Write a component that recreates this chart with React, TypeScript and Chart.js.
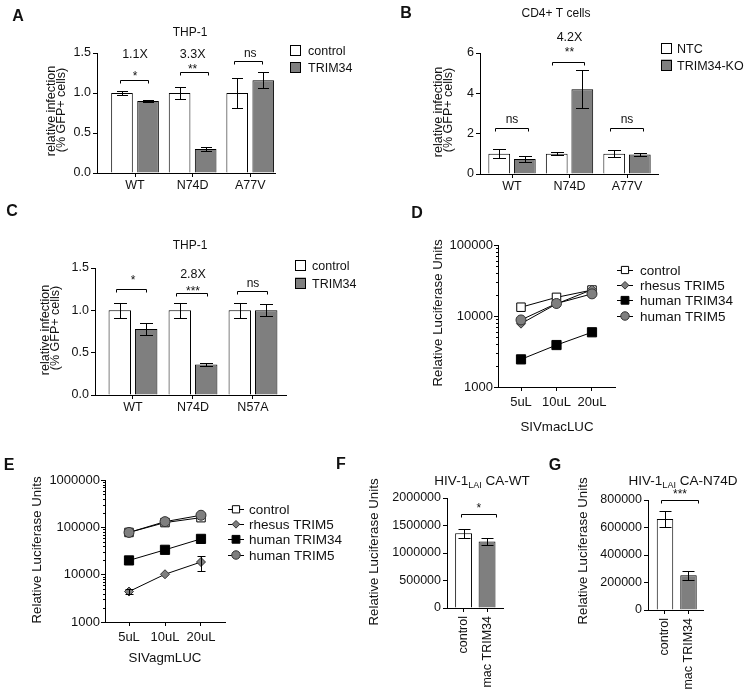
import React, { useEffect, useRef } from 'react';
import { Chart, registerables } from 'chart.js';

Chart.register(...registerables);

const FONT = '"Liberation Sans", Arial, Helvetica, sans-serif';
const GRAY = '#7f7f7f';
const W = 750;
const H = 700;
const YW = 70;

// ---------- Panel A: THP-1 ----------
const aCategories = ['WT', 'N74D', 'A77V'];
const aControl = [1.0, 1.0, 1.0];
const aControlErr = [0.02, 0.08, 0.19];
const aTrim34 = [0.9, 0.3, 1.16];
const aTrim34Err = [0.01, 0.02, 0.1];
const aYTicks = [0, 0.5, 1.0, 1.5];
const aFold = ['1.1X', '3.3X', ''];
const aSig = ['*', '**', 'ns'];

// ---------- Panel B: CD4+ T cells ----------
const bCategories = ['WT', 'N74D', 'A77V'];
const bNTC = [1.0, 1.0, 1.0];
const bNTCErr = [0.22, 0.07, 0.18];
const bKO = [0.75, 4.2, 0.97];
const bKOErr = [0.14, 0.95, 0.07];
const bYTicks = [0, 2, 4, 6];
const bFold = ['', '4.2X', ''];
const bSig = ['ns', '**', 'ns'];

// ---------- Panel C: THP-1 ----------
const cCategories = ['WT', 'N74D', 'N57A'];
const cControl = [1.0, 1.0, 1.0];
const cControlErr = [0.09, 0.09, 0.09];
const cTrim34 = [0.78, 0.36, 1.0];
const cTrim34Err = [0.07, 0.02, 0.07];
const cYTicks = [0, 0.5, 1.0, 1.5];
const cFold = ['', '2.8X', ''];
const cSig = ['*', '***', 'ns'];

// ---------- Panel D: SIVmacLUC ----------
const dDoses = ['5uL', '10uL', '20uL'];
const dControl = [13300, 18300, 23200];
const dRhesusTrim5 = [7800, 14800, 23500];
const dHumanTrim34 = [2450, 3900, 5900];
const dHumanTrim5 = [8800, 15000, 20500];
const dYTicks = [1000, 10000, 100000];

// ---------- Panel E: SIVagmLUC ----------
const eDoses = ['5uL', '10uL', '20uL'];
const eControl = [78000, 126000, 160000];
const eRhesusTrim5 = [4400, 10200, 18500];
const eRhesusTrim5Err = [500, 0, 6800];
const eHumanTrim34 = [20000, 33500, 57000];
const eHumanTrim5 = [78000, 132000, 180000];
const eYTicks = [1000, 10000, 100000, 1000000];

// ---------- Panel F: HIV-1 LAI CA-WT ----------
const fCategories = ['control', 'mac TRIM34'];
const fValues = [1360000, 1210000];
const fErr = [80000, 60000];
const fYTicks = [0, 500000, 1000000, 1500000, 2000000];
const fSig = '*';

// ---------- Panel G: HIV-1 LAI CA-N74D ----------
const gCategories = ['control', 'mac TRIM34'];
const gValues = [662000, 252000];
const gErr = [58000, 34000];
const gYTicks = [0, 200000, 400000, 600000, 800000];
const gSig = '***';

// ================= helpers =================
type Rect = { left: number; top: number; right: number; bottom: number };
type Txt = { text: string; x: number; y: number; size: number; bold?: boolean; rotate?: boolean; align?: CanvasTextAlign };
type Mark = { text: string; x: number; y: number; size: number };
type Br = { x0: number; x1: number; y: number };
type Decor = {
  texts?: Txt[];
  brackets?: Br[];
  marks?: Mark[];
  legend?: { kind: 'box' | 'line'; x: number; textX: number; ys: number[]; size: number };
  cap?: number;
  minorLog?: boolean;
  title?: { cx: number; cy: number; parts: { t: string; size: number; sub?: boolean }[] };
};

function layoutPadding(r: Rect, xh: number) {
  return { left: r.left - YW, top: r.top, right: W - r.right, bottom: H - r.bottom - xh };
}

function inkText(ctx: CanvasRenderingContext2D, t: Txt) {
  ctx.save();
  ctx.fillStyle = '#111';
  ctx.font = `${t.bold ? 'bold ' : ''}${t.size}px ${FONT}`;
  ctx.textAlign = t.align || 'center';
  ctx.textBaseline = 'alphabetic';
  ctx.translate(t.x, t.y);
  if (t.rotate) ctx.rotate(-Math.PI / 2);
  const m = ctx.measureText(t.text);
  const off = (m.actualBoundingBoxAscent - m.actualBoundingBoxDescent) / 2;
  ctx.fillText(t.text, 0, off);
  ctx.restore();
}

function drawMarker(ctx: CanvasRenderingContext2D, style: string, x: number, y: number, r: number, fill: string, stroke: string) {
  ctx.beginPath();
  if (style === 'rect') {
    const s = r * Math.SQRT1_2;
    ctx.rect(x - s, y - s, 2 * s, 2 * s);
  } else if (style === 'rectRot') {
    ctx.moveTo(x - r, y);
    ctx.lineTo(x, y - r);
    ctx.lineTo(x + r, y);
    ctx.lineTo(x, y + r);
    ctx.closePath();
  } else {
    ctx.arc(x, y, r, 0, Math.PI * 2);
  }
  ctx.fillStyle = fill;
  ctx.fill();
  ctx.lineWidth = 1;
  ctx.strokeStyle = stroke;
  ctx.stroke();
}

function makeDecor(d: Decor) {
  return {
    id: 'decor',
    afterDatasetsDraw(chart: any) {
      const ctx: CanvasRenderingContext2D = chart.ctx;
      const ys = chart.scales.y;
      ctx.save();
      ctx.strokeStyle = '#000';
      ctx.lineWidth = 1;
      chart.data.datasets.forEach((ds: any, di: number) => {
        const errs: number[] | undefined = ds.errors;
        if (!errs) return;
        const meta = chart.getDatasetMeta(di);
        meta.data.forEach((el: any, i: number) => {
          const e = errs[i];
          if (!e) return;
          const p = ds.data[i];
          const v = typeof p === 'number' ? p : p.y;
          const x = Math.round(el.x) + 0.5;
          const y1 = Math.round(ys.getPixelForValue(v + e)) + 0.5;
          const y0 = Math.round(ys.getPixelForValue(v - e)) + 0.5;
          const c = (d.cap || 12) / 2;
          ctx.beginPath();
          ctx.moveTo(x, y1);
          ctx.lineTo(x, y0);
          ctx.moveTo(x - c, y1);
          ctx.lineTo(x + c, y1);
          ctx.moveTo(x - c, y0);
          ctx.lineTo(x + c, y0);
          ctx.stroke();
        });
      });
      ctx.restore();
    },
    afterDraw(chart: any) {
      const ctx: CanvasRenderingContext2D = chart.ctx;
      const xs = chart.scales.x;
      const ys = chart.scales.y;
      ctx.save();
      ctx.strokeStyle = '#000';
      ctx.lineWidth = 1;
      if (d.minorLog) {
        const lo = Math.round(Math.log10(ys.min));
        const hi = Math.round(Math.log10(ys.max));
        const x = Math.round(chart.chartArea.left) + 0.5;
        ctx.beginPath();
        for (let k = lo; k < hi; k++) {
          for (let m = 2; m <= 9; m++) {
            const y = Math.round(ys.getPixelForValue(m * Math.pow(10, k))) + 0.5;
            ctx.moveTo(x - 2.5, y);
            ctx.lineTo(x, y);
          }
        }
        ctx.stroke();
      }
      (d.brackets || []).forEach((b) => {
        const x0 = Math.round(xs.getPixelForValue(b.x0)) + 0.5;
        const x1 = Math.round(xs.getPixelForValue(b.x1)) + 0.5;
        const y = Math.round(ys.getPixelForValue(b.y)) + 0.5;
        ctx.beginPath();
        ctx.moveTo(x0, y + 3);
        ctx.lineTo(x0, y);
        ctx.lineTo(x1, y);
        ctx.lineTo(x1, y + 3);
        ctx.stroke();
      });
      ctx.restore();
      (d.marks || []).forEach((m) => {
        if (!m.text) return;
        inkText(ctx, { text: m.text, x: xs.getPixelForValue(m.x), y: ys.getPixelForValue(m.y), size: m.size });
      });
      (d.texts || []).forEach((t) => inkText(ctx, t));
      if (d.title) {
        const { cx, cy, parts } = d.title;
        ctx.save();
        ctx.fillStyle = '#111';
        ctx.textBaseline = 'alphabetic';
        ctx.textAlign = 'left';
        let total = 0;
        const widths = parts.map((p) => {
          ctx.font = `${p.size}px ${FONT}`;
          const w = ctx.measureText(p.t).width;
          total += w;
          return w;
        });
        ctx.font = `${parts[0].size}px ${FONT}`;
        const capA = ctx.measureText('H').actualBoundingBoxAscent;
        const base = cy + capA / 2;
        let x = cx - total / 2;
        parts.forEach((p, i) => {
          ctx.font = `${p.size}px ${FONT}`;
          ctx.fillText(p.t, x, p.sub ? base + 3 : base);
          x += widths[i];
        });
        ctx.restore();
      }
      if (d.legend) {
        const L = d.legend;
        chart.data.datasets.forEach((ds: any, i: number) => {
          const y = L.ys[i];
          ctx.save();
          if (L.kind === 'box') {
            ctx.fillStyle = ds.backgroundColor;
            ctx.fillRect(L.x, y - 5.5, 11, 11);
            ctx.strokeStyle = '#000';
            ctx.lineWidth = 1;
            ctx.strokeRect(L.x + 0.5, Math.round(y - 5.5) + 0.5, 10, 10);
          } else {
            ctx.strokeStyle = '#000';
            ctx.lineWidth = 1;
            ctx.beginPath();
            ctx.moveTo(L.x - 8, Math.round(y) + 0.5);
            ctx.lineTo(L.x + 8, Math.round(y) + 0.5);
            ctx.stroke();
            drawMarker(ctx, ds.pointStyle, L.x, y, ds.pointRadius * 0.85, ds.pointBackgroundColor, ds.pointBorderColor);
          }
          ctx.restore();
          inkText(ctx, { text: ds.label, x: L.textX, y, size: L.size, align: 'left' });
        });
      }
    },
  };
}

const gridOpts = () => ({
  display: true,
  drawOnChartArea: false,
  drawTicks: true,
  tickLength: 4,
  tickColor: '#000',
  tickWidth: 1,
  offset: false,
  color: '#000',
});
const borderOpts = () => ({ display: true, color: '#000', width: 1 });

function xAxis(cats: string[], min: number, max: number, size: number, pad: number, xh: number, rotate = false) {
  return {
    type: 'linear',
    min,
    max,
    offset: false,
    afterBuildTicks: (s: any) => {
      s.ticks = cats.map((_, i) => ({ value: i }));
    },
    afterFit: (s: any) => {
      s.height = xh;
    },
    grid: gridOpts(),
    border: borderOpts(),
    ticks: {
      color: '#111',
      font: { family: FONT, size },
      padding: pad,
      autoSkip: false,
      maxRotation: rotate ? 90 : 0,
      minRotation: rotate ? 90 : 0,
      callback: (_v: any, i: number) => cats[i],
    },
  };
}

function yLinear(ticks: number[], fmt: (v: number) => string, size: number) {
  return {
    type: 'linear',
    min: ticks[0],
    max: ticks[ticks.length - 1],
    afterBuildTicks: (s: any) => {
      s.ticks = ticks.map((v) => ({ value: v }));
    },
    afterFit: (s: any) => {
      s.width = YW;
    },
    grid: gridOpts(),
    border: borderOpts(),
    ticks: { color: '#111', font: { family: FONT, size }, padding: 2, callback: (v: number) => fmt(v) },
  };
}

function yLog(ticks: number[], size: number) {
  return {
    type: 'logarithmic',
    min: ticks[0],
    max: ticks[ticks.length - 1],
    afterBuildTicks: (s: any) => {
      s.ticks = ticks.map((v) => ({ value: v, major: true }));
    },
    afterFit: (s: any) => {
      s.width = YW;
    },
    grid: gridOpts(),
    border: borderOpts(),
    ticks: { color: '#111', font: { family: FONT, size }, padding: 1, callback: (v: number) => String(v) },
  };
}

const pts = (vals: number[]) => vals.map((v, i) => ({ x: i, y: v }));

function baseOptions(rect: Rect, xh: number, x: any, y: any) {
  return {
    responsive: false,
    maintainAspectRatio: false,
    animation: false,
    events: [],
    layout: { padding: layoutPadding(rect, xh) },
    plugins: { legend: { display: false }, tooltip: { enabled: false }, title: { display: false } },
    scales: { x, y },
  };
}

// ================= panel configs =================
function panelA() {
  const rect = { left: 97, top: 53, right: 275, bottom: 173 };
  const sigY = [1.24, 1.33, 1.5];
  const foldY = 1.5;
  return {
    type: 'bar',
    data: {
      datasets: [
        { label: 'control', data: pts(aControl), errors: aControlErr, backgroundColor: '#fff', borderColor: '#000', borderWidth: 1, categoryPercentage: 0.905, barPercentage: 0.83 },
        { label: 'TRIM34', data: pts(aTrim34), errors: aTrim34Err, backgroundColor: GRAY, borderColor: '#000', borderWidth: 1, categoryPercentage: 0.905, barPercentage: 0.83 },
      ],
    },
    options: baseOptions(rect, 40, xAxis(aCategories, -0.66, 2.43, 12.5, 1, 40), yLinear(aYTicks, (v) => v.toFixed(1), 12.5)),
    plugins: [
      makeDecor({
        cap: 11,
        brackets: [
          { x0: -0.26, x1: 0.22, y: 1.16 },
          { x0: 0.78, x1: 1.27, y: 1.266 },
          { x0: 1.71, x1: 2.2, y: 1.4 },
        ],
        marks: [
          ...aSig.map((t, i) => ({ text: t, x: i, y: sigY[i], size: 12 })),
          ...aFold.map((t, i) => ({ text: t, x: i, y: foldY, size: 12.5 })),
        ],
        legend: { kind: 'box', x: 290, textX: 308, ys: [50, 67.5], size: 12.5 },
        texts: [
          { text: 'A', x: 18, y: 15, size: 16, bold: true },
          { text: 'THP-1', x: 190, y: 31, size: 12 },
          { text: 'relative infection', x: 50, y: 111, size: 12.5, rotate: true },
          { text: '(% GFP+ cells)', x: 62, y: 110, size: 12.5, rotate: true },
        ],
      }),
    ],
  };
}

function panelB() {
  const rect = { left: 480, top: 53, right: 658, bottom: 174 };
  const sigY = [2.71, 6.15, 2.71];
  const foldY = 6.81;
  return {
    type: 'bar',
    data: {
      datasets: [
        { label: 'NTC', data: pts(bNTC), errors: bNTCErr, backgroundColor: '#fff', borderColor: '#000', borderWidth: 1, categoryPercentage: 0.89, barPercentage: 0.85 },
        { label: 'TRIM34-KO', data: pts(bKO), errors: bKOErr, backgroundColor: GRAY, borderColor: '#000', borderWidth: 1, categoryPercentage: 0.89, barPercentage: 0.85 },
      ],
    },
    options: baseOptions(rect, 40, xAxis(bCategories, -0.557, 2.539, 12.5, 1, 40), yLinear(bYTicks, (v) => String(v), 12.5)),
    plugins: [
      makeDecor({
        cap: 13,
        brackets: [
          { x0: -0.3, x1: 0.28, y: 2.27 },
          { x0: 0.69, x1: 1.26, y: 5.57 },
          { x0: 1.7, x1: 2.28, y: 2.27 },
        ],
        marks: [
          ...bSig.map((t, i) => ({ text: t, x: i, y: sigY[i], size: 12 })),
          ...bFold.map((t, i) => ({ text: t, x: i, y: foldY, size: 12.5 })),
        ],
        legend: { kind: 'box', x: 661, textX: 677, ys: [48, 65], size: 12.5 },
        texts: [
          { text: 'B', x: 406, y: 12, size: 16, bold: true },
          { text: 'CD4+ T cells', x: 556, y: 12, size: 12 },
          { text: 'relative infection', x: 437, y: 112, size: 12.5, rotate: true },
          { text: '(% GFP+ cells)', x: 449, y: 110, size: 12.5, rotate: true },
        ],
      }),
    ],
  };
}

function panelC() {
  const rect = { left: 95, top: 268, right: 286, bottom: 395 };
  const sigY = [1.39, 1.26, 1.32];
  const foldY = 1.43;
  return {
    type: 'bar',
    data: {
      datasets: [
        { label: 'control', data: pts(cControl), errors: cControlErr, backgroundColor: '#fff', borderColor: '#000', borderWidth: 1, categoryPercentage: 0.88, barPercentage: 0.85 },
        { label: 'TRIM34', data: pts(cTrim34), errors: cTrim34Err, backgroundColor: GRAY, borderColor: '#000', borderWidth: 1, categoryPercentage: 0.88, barPercentage: 0.85 },
      ],
    },
    options: baseOptions(rect, 40, xAxis(cCategories, -0.633, 2.55, 12.5, 1, 40), yLinear(cYTicks, (v) => v.toFixed(1), 12.5)),
    plugins: [
      makeDecor({
        cap: 13,
        brackets: [
          { x0: -0.28, x1: 0.22, y: 1.248 },
          { x0: 0.72, x1: 1.23, y: 1.2 },
          { x0: 1.73, x1: 2.23, y: 1.23 },
        ],
        marks: [
          ...cSig.map((t, i) => ({ text: t, x: i, y: sigY[i], size: 12 })),
          ...cFold.map((t, i) => ({ text: t, x: i, y: foldY, size: 12.5 })),
        ],
        legend: { kind: 'box', x: 295, textX: 312, ys: [265.5, 283], size: 12.5 },
        texts: [
          { text: 'C', x: 12, y: 210, size: 16, bold: true },
          { text: 'relative infection', x: 44, y: 330, size: 12.5, rotate: true },
          { text: '(% GFP+ cells)', x: 56, y: 328, size: 12.5, rotate: true },
          { text: 'THP-1', x: 190, y: 244.5, size: 12 },
        ],
      }),
    ],
  };
}

function lineDatasets(control: number[], rhesus: number[], h34: number[], h5: number[], rhesusErr?: number[]) {
  const common = { borderColor: '#000', borderWidth: 1, fill: false, tension: 0, pointBorderWidth: 1 };
  return [
    { ...common, label: 'control', data: pts(control), pointStyle: 'rect', pointRadius: 6, pointBackgroundColor: '#fff', pointBorderColor: '#000', order: 3 },
    { ...common, label: 'rhesus TRIM5', data: pts(rhesus), errors: rhesusErr, pointStyle: 'rectRot', pointRadius: 4.5, pointBackgroundColor: GRAY, pointBorderColor: '#333', order: 2 },
    { ...common, label: 'human TRIM34', data: pts(h34), pointStyle: 'rect', pointRadius: 6.5, pointBackgroundColor: '#000', pointBorderColor: '#000', order: 1 },
    { ...common, label: 'human TRIM5', data: pts(h5), pointStyle: 'circle', pointRadius: 5, pointBackgroundColor: GRAY, pointBorderColor: '#333', order: 0 },
  ];
}

function panelD() {
  const rect = { left: 498, top: 245, right: 615, bottom: 387 };
  return {
    type: 'line',
    data: { datasets: lineDatasets(dControl, dRhesusTrim5, dHumanTrim34, dHumanTrim5) },
    options: baseOptions(rect, 40, xAxis(dDoses, -0.648, 2.648, 13, 4, 40), yLog(dYTicks, 13)),
    plugins: [
      makeDecor({
        cap: 8,
        minorLog: true,
        legend: { kind: 'line', x: 625, textX: 640, ys: [270, 285.3, 300.3, 316], size: 13.5 },
        texts: [
          { text: 'D', x: 417, y: 212, size: 16, bold: true },
          { text: 'Relative Luciferase Units', x: 437.5, y: 313, size: 13.3, rotate: true },
          { text: 'SIVmacLUC', x: 557, y: 426, size: 13.3 },
        ],
      }),
    ],
  };
}

function panelE() {
  const rect = { left: 105, top: 480, right: 225, bottom: 622 };
  return {
    type: 'line',
    data: { datasets: lineDatasets(eControl, eRhesusTrim5, eHumanTrim34, eHumanTrim5, eRhesusTrim5Err) },
    options: baseOptions(rect, 40, xAxis(eDoses, -0.667, 2.667, 13, 4, 40), yLog(eYTicks, 13)),
    plugins: [
      makeDecor({
        cap: 8,
        minorLog: true,
        legend: { kind: 'line', x: 236, textX: 249, ys: [509.3, 524.3, 539.3, 555], size: 13.5 },
        texts: [
          { text: 'E', x: 9, y: 464, size: 16, bold: true },
          { text: 'Relative Luciferase Units', x: 36, y: 550, size: 13.3, rotate: true },
          { text: 'SIVagmLUC', x: 165, y: 659, size: 13.3 },
        ],
      }),
    ],
  };
}

function panelF() {
  const rect = { left: 447, top: 498, right: 503, bottom: 608 };
  return {
    type: 'bar',
    data: {
      datasets: [
        {
          label: 'HIV-1 LAI CA-WT',
          data: pts(fValues),
          errors: fErr,
          backgroundColor: ['#fff', GRAY],
          borderColor: '#000',
          borderWidth: 1,
          categoryPercentage: 1,
          barPercentage: 0.72,
        },
      ],
    },
    options: baseOptions(rect, 90, xAxis(fCategories, -0.707, 1.68, 12.5, 4, 90, true), yLinear(fYTicks, (v) => String(v), 12.5)),
    plugins: [
      makeDecor({
        cap: 12,
        brackets: [{ x0: -0.12, x1: 1.4, y: 1709000 }],
        marks: [{ text: fSig, x: 0.65, y: 1870000, size: 12 }],
        title: { cx: 482, cy: 480, parts: [{ t: 'HIV-1', size: 13.5 }, { t: 'LAI', size: 9, sub: true }, { t: ' CA-WT', size: 13.5 }] },
        texts: [
          { text: 'F', x: 341, y: 463, size: 16, bold: true },
          { text: 'Relative Luciferase Units', x: 373, y: 552, size: 13.3, rotate: true },
        ],
      }),
    ],
  };
}

function panelG() {
  const rect = { left: 648, top: 500, right: 703, bottom: 610 };
  return {
    type: 'bar',
    data: {
      datasets: [
        {
          label: 'HIV-1 LAI CA-N74D',
          data: pts(gValues),
          errors: gErr,
          backgroundColor: ['#fff', GRAY],
          borderColor: '#000',
          borderWidth: 1,
          categoryPercentage: 1,
          barPercentage: 0.7,
        },
      ],
    },
    options: baseOptions(rect, 88, xAxis(gCategories, -0.723, 1.617, 12.5, 4, 88, true), yLinear(gYTicks, (v) => String(v), 12.5)),
    plugins: [
      makeDecor({
        cap: 12,
        brackets: [{ x0: -0.17, x1: 1.42, y: 800000 }],
        marks: [{ text: gSig, x: 0.64, y: 860000, size: 12 }],
        title: { cx: 683, cy: 480, parts: [{ t: 'HIV-1', size: 13.5 }, { t: 'LAI', size: 9, sub: true }, { t: ' CA-N74D', size: 13.5 }] },
        texts: [
          { text: 'G', x: 555, y: 464, size: 16, bold: true },
          { text: 'Relative Luciferase Units', x: 582.5, y: 551, size: 13.3, rotate: true },
        ],
      }),
    ],
  };
}

const PANELS = [panelA, panelB, panelC, panelD, panelE, panelF, panelG];

function ChartCanvas({ make }: { make: () => any }) {
  const ref = useRef<HTMLCanvasElement>(null);
  useEffect(() => {
    if (!ref.current) return;
    const chart = new Chart(ref.current, make());
    return () => chart.destroy();
  }, [make]);
  return (
    <canvas
      ref={ref}
      width={W}
      height={H}
      style={{ position: 'absolute', left: 0, top: 0, width: W, height: H }}
    />
  );
}

export default function App() {
  return (
    <div style={{ position: 'absolute', left: 0, top: 0, width: W, height: H, background: '#fff', overflow: 'hidden' }}>
      {PANELS.map((p, i) => (
        <ChartCanvas key={i} make={p} />
      ))}
    </div>
  );
}
